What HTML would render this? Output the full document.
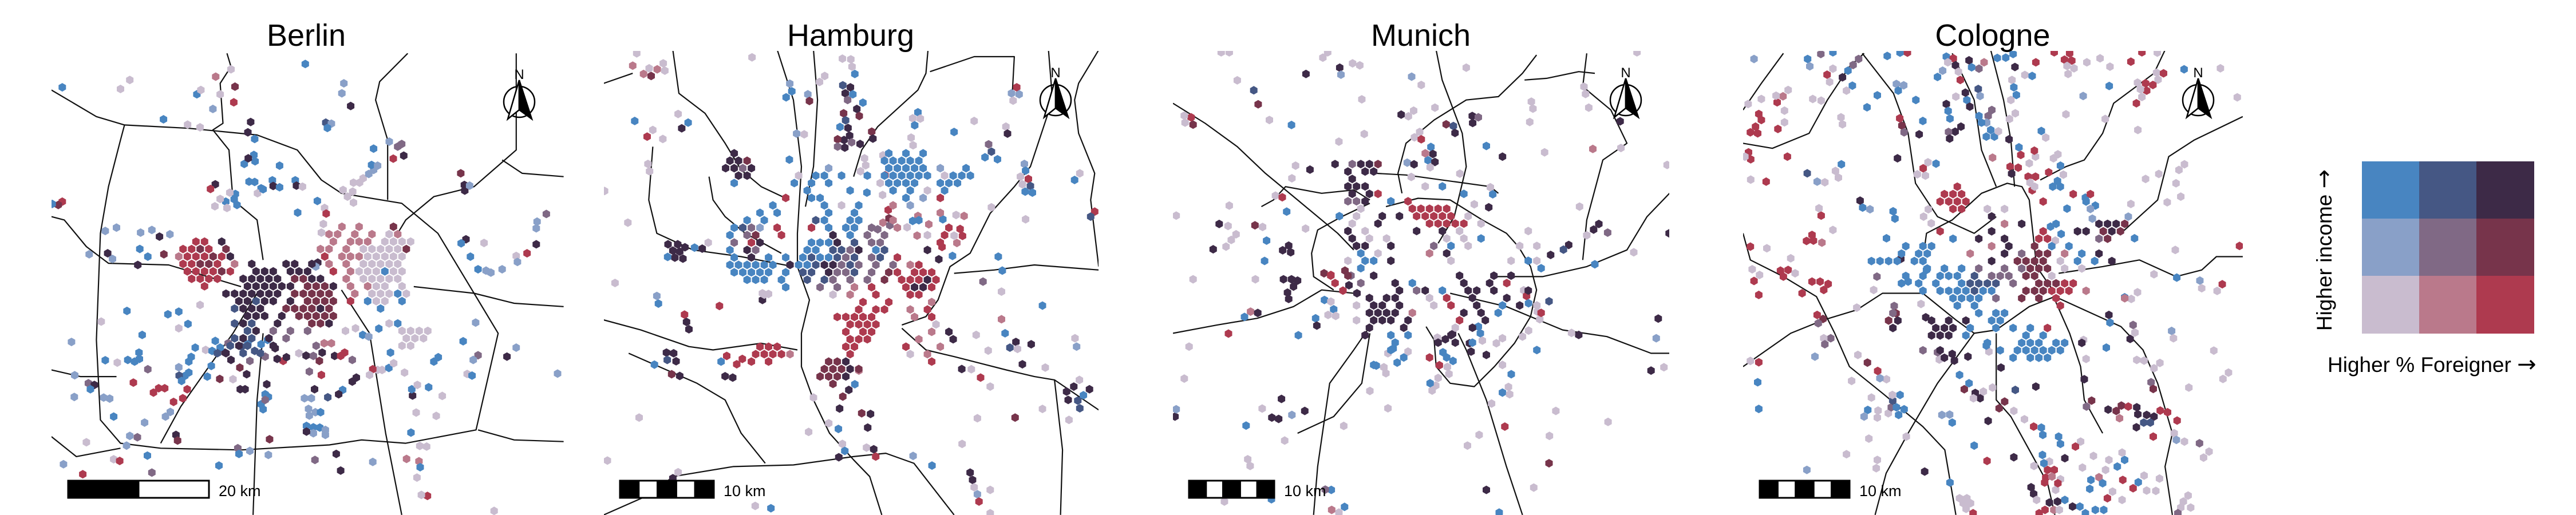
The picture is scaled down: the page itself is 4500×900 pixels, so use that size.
<!DOCTYPE html>
<html><head><meta charset="utf-8"><title>Bivariate maps</title>
<style>
html,body{margin:0;padding:0;background:#fff;}
svg{display:block;font-family:"Liberation Sans",Arial,sans-serif;}
.arr{font-family:"DejaVu Sans",sans-serif;}
</style></head>
<body>
<svg id="fig" width="4500" height="900" viewBox="0 0 4500 900" xmlns="http://www.w3.org/2000/svg">
<defs>
<clipPath id="clip0"><rect x="90" y="93" width="895" height="807"/></clipPath>
<clipPath id="clip1"><rect x="1055" y="89" width="864" height="811"/></clipPath>
<clipPath id="clip2"><rect x="2049" y="89" width="867" height="811"/></clipPath>
<clipPath id="clip3"><rect x="3045" y="89" width="873" height="811"/></clipPath>
</defs>
<text x="535" y="80" font-size="54" text-anchor="middle">Berlin</text>
<text x="1486" y="80" font-size="54" text-anchor="middle">Hamburg</text>
<text x="2482" y="80" font-size="54" text-anchor="middle">Munich</text>
<text x="3481" y="80" font-size="54" text-anchor="middle">Cologne</text>
<g id="panels"></g>
<g id="legend">
<rect x="4126" y="282" width="101" height="101" fill="#4885c1"/>
<rect x="4226" y="282" width="101" height="101" fill="#455784"/>
<rect x="4326" y="282" width="101" height="101" fill="#3d2a47"/>
<rect x="4126" y="382" width="101" height="101" fill="#89a0c8"/>
<rect x="4226" y="382" width="101" height="101" fill="#806985"/>
<rect x="4326" y="382" width="101" height="101" fill="#77344b"/>
<rect x="4126" y="482" width="101" height="101" fill="#c9bccf"/>
<rect x="4226" y="482" width="101" height="101" fill="#ba798b"/>
<rect x="4326" y="482" width="101" height="101" fill="#ae3a4f"/>
<text transform="translate(4073,437) rotate(-90)" font-size="37" text-anchor="middle">Higher income <tspan class="arr" font-size="40">→</tspan></text>
<text x="4066" y="650" font-size="37">Higher % Foreigner <tspan class="arr" font-size="40">→</tspan></text>
</g>
</svg>
<script>
const PAL = ['#c9bccf','#ba798b','#ae3a4f','#89a0c8','#806985','#77344b','#4885c1','#455784','#3d2a47'];
const cityNames = ['berlin','hamburg','munich','cologne'];
const scaleLabels = ['20 km','10 km','10 km','10 km'];

const berlinGrid = [
"................................",
"....................1.1...5.....",
"...................11.1.1.01....",
"...22.8............1.111.0000...",
"..2252.5..........11.1.000005...",
".1222528..........2.11100000....",
"..22552.1.8...88.8.1.1.00000....",
"..222252..888.888..2.1000600....",
"...2222..88888.5588..1.00000....",
"....2....888888.5558.1.100.0....",
".......8888888.55555..1.00060...",
"........88788.8.5555.2.600.6....",
"........7888..555585.....6......",
".........888.8.55555............",
"........787..8...558......06....",
".........78.4.4.4..........0000.",
"........787.8.4.............000.",
".......787..8....4.........00...",
"......78.7.7...................."];
const hamburgGrid = [
"..8.................6.6.6.....",
".885...............66666......",
".8848........3......66666.3..6",
"..88.....0.66.6..6.666666.0666",
"..6......6.6.6.....06666..666.",
"..........6....6....6.6.0.6...",
"........2..66.........6.3.2...",
"......6.....6.0.6...1.3.......",
".....6.6.....6..6.........1...",
"...6.6.....76..66...1..6......",
"..6743.2...2.6.66.4..1.....2..",
".6.45..2.....8.6.4.4....0.2...",
"..4.28.....6668.7.44......2...",
".6.84.....66.7748.67....8.....",
"..6.8.6.6.6766747.47.2........",
".666666.866788474.4.4.12......",
"..66666.6.77.8447.4.52.222....",
"...666.6..7.74.4.4.5.22282....",
"........6...4.4.1.2...2882....",
".....0.......0.1..2...22......",
".................2..2....1....",
"................2.22..1.2.....",
"..............22222....1.2....",
"...............2222......0....",
"...............2.22......1.8..",
"...............222.....1...8..",
".....222.......22.....2...1...",
"....22221......2......0.1.....",
"....2.2......558.........2....",
"............55585...........8.",
"............5558..............",
".............5................"];
const munichGrid = [
"......................8.....",
"..8.4885....................",
"....8.88....................",
"....8.......................",
"....888......0.6............",
"....8.82.........6..........",
"....448..6.2................",
".....0.....22222............",
"...6.0..8.8.22222.0.........",
"....0..8.....22222.0........",
"....8.0.....8..8.0.......0..",
"....8.0.0......0.0.6........",
".....88..8....4.6.0.....0.0.",
".....6.0.....1.8............",
"....0.66.8......0......0.60.",
".....6....................6.",
"..2.5..8.........8...8.8....",
"..2..4...8.6.....8..8.2.....",
"..........8.48.6..88.8...8..",
"......8.88...0.2..8...8.....",
".....0.88.8...0.2..8..6.8.0.",
"......8888.1.....8.8.6....2.",
".....0.888.8.....2..8.......",
"......8...8.....0.8.........",
"......8..6.6....8...........",
".........6....8.8.6.........",
".........6................6.",
"..........6..2.6............",
".......6...................."];
const cologneGrid = [
"..........2........0..6.......",
"........222............2.2....",
"........2222........2....6....",
".........22..0.0.........3....",
"..............8...............",
"...............1.8...6....8885",
"........2.....8.....2...88.585",
".........6..8..8...22.....45..",
"....6.66......1.8..5.6.6......",
"...6.66....1...8.4.55.1.6.8...",
"6666.66.......8..5555.0.6.6.8.",
"......6.6.6.4..4.4555.0.0.....",
"....6.6.666.7.444.55.0........",
"...6.6.6..67777.4..55522......",
"......6.6666766...555222.1....",
".........6666.4..5.5.2.......1",
"..........6.6.........2.......",
"..4.........6.66..............",
"..5....8.8.8..66..............",
"..8....888.6..6.6.6.2.........",
".......888.6......6.6.........",
".............6...666.66.8.....",
"......4.8......6.666666.......",
"........8.......6.666........."];
const gridOrigins = [[413,658],[360,460],[420,470],[420,560]];

const berlinPoints = [[155,262,6],[323,240,0],[300,267,0],[490,283,6],[500,270,0],[575,208,0],[537,230,1],[548,283,0],[585,260,5],[582,307,2],[530,327,3],[407,358,6],[467,374,0],[498,382,0],[760,192,6],[856,250,3],[851,280,3],[873,318,8],[811,368,7],[825,371,3],[815,384,6],[624,366,8],[617,397,8],[634,417,6],[969,425,3],[990,440,4],[1000,432,4],[1005,467,8],[979,476,2],[930,446,6],[1147,520,5],[1156,555,8],[1157,572,8],[1169,557,3],[1360,642,4],[1337,665,3],[1335,685,3],[1312,760,2],[1335,733,8],[1160,718,8],[1148,730,6],[1205,729,0],[1171,770,6],[1190,808,6],[1210,812,3],[1222,818,3],[1250,808,3],[1285,768,0],[1288,786,3],[155,605,2],[145,615,5],[130,612,6],[262,693,3],[290,683,3],[222,763,3],[268,760,8],[280,777,3],[343,795,8],[368,770,6],[378,690,3],[397,710,8],[423,703,3],[350,698,3],[348,747,6],[408,763,5],[316,933,6],[252,965,0],[178,1026,3],[262,1081,6],[292,1088,0],[318,1080,6],[335,1085,6],[347,1077,6],[346,1058,6],[354,1005,6],[418,943,6],[445,935,6],[468,972,6],[498,915,0],[445,985,0],[186,1126,3],[220,1150,4],[235,1155,8],[225,1168,6],[185,1191,3],[258,1193,3],[273,1196,3],[332,1148,2],[368,1108,4],[395,1165,2],[410,1165,2],[382,1178,2],[432,1206,2],[455,1195,2],[466,1168,2],[412,1250,3],[424,1236,3],[283,1250,6],[360,1268,3],[323,1308,3],[342,1312,4],[315,1337,3],[215,1327,0],[158,1393,3],[206,1423,2],[283,1378,0],[298,1383,2],[378,1418,4],[367,1367,6],[438,1305,8],[442,1322,5],[545,1397,6],[592,1345,4],[622,1353,3],[595,1362,6],[668,1365,3],[671,1318,5],[837,1362,8],[848,1412,8],[784,1380,4],[928,1386,3],[1012,1377,1],[1043,1384,1],[1046,1402,6],[1038,1433,0],[1064,1488,2],[1049,1485,0],[1230,1533,0],[1023,1298,6],[1045,1338,0],[1062,1340,0],[1036,1238,0],[1086,1248,0],[1101,1188,0],[1027,1187,8],[1025,1168,6],[1039,1155,0],[1067,1162,6],[1163,1122,0],[1175,1127,6],[1190,1066,4],[1178,1080,3],[1262,1070,8],[1285,1043,3],[1184,968,3],[1153,1024,6],[1388,1121,3],[1080,1085,6],[1091,1072,6],[660,1183,6],[668,1191,6],[650,1213,6],[655,1228,6],[660,1200,4],[758,1195,3],[775,1195,3],[768,1227,3],[785,1237,3],[770,1247,3],[798,1237,6],[780,1282,6],[763,1278,6],[796,1283,6],[810,1290,3],[780,1300,3],[763,1295,8],[810,1305,3],[853,1170,6],[843,1183,8],[816,1192,7],[887,1133,8],[877,1145,8],[783,1168,8],[800,1125,2],[770,1115,4],[598,1168,8],[610,1168,8],[614,1123,8],[664,1153,8],[547,1137,5],[580,1138,0],[597,1103,5],[705,1083,2],[690,1077,8],[660,1070,4],[622,1083,4],[575,1080,8],[560,1058,8],[512,1050,0],[528,1053,6],[548,1043,6],[526,1098,6],[516,1130,6],[460,1128,6],[446,1127,7],[452,1143,6],[445,1102,3],[470,1118,6],[470,1085,6],[476,1071,6],[486,1043,6],[536,1023,6],[568,1030,4],[601,1040,7],[617,1033,6],[634,1053,7],[650,1033,6],[666,1020,6],[685,1045,8],[713,1072,8],[744,1060,0],[762,1067,8],[780,1068,4],[795,1083,5],[802,1058,8],[833,1068,8],[848,1068,2],[858,1058,2],[877,1080,4],[807,1030,1],[825,1030,1],[860,993,0],[885,985,0],[903,1005,6],[943,986,6],[918,1010,3],[940,1110,0],[928,1108,2],[951,1110,0],[968,1104,6],[920,1125,0],[972,1058,6],[980,1090,0],[1007,1118,0],[650,565,6],[608,492,6],[635,484,6],[632,465,6],[618,475,8],[696,497,6],[678,541,6],[680,558,8],[696,562,6],[735,541,6],[738,557,8],[753,560,0],[620,545,6],[634,546,6],[586,582,6],[562,605,6],[548,597,0],[535,619,0],[565,624,0],[583,598,6],[590,615,6],[536,553,8],[524,567,2],[572,578,0],[641,580,0],[655,568,6],[790,603,6],[741,638,6],[808,624,0],[812,641,2],[805,672,0],[880,608,0],[865,590,0],[878,575,0],[854,570,0],[895,548,0],[880,548,0],[904,535,0],[918,522,3],[930,510,3],[925,495,6],[940,497,3],[800,698,0],[791,788,8],[786,800,3]];

const hamburgPoints = [[160,160,0],[150,197,1],[177,222,1],[196,228,5],[211,208,1],[230,212,0],[191,205,0],[226,190,0],[447,172,0],[672,176,0],[693,178,0],[696,200,0],[703,222,6],[628,228,0],[615,246,0],[541,251,3],[546,274,6],[532,292,6],[586,283,3],[590,303,5],[673,256,7],[692,262,8],[679,280,8],[698,283,6],[685,300,4],[723,308,6],[708,327,8],[714,348,5],[675,340,5],[680,361,7],[666,381,6],[686,384,8],[690,407,8],[676,420,8],[660,418,5],[695,427,4],[678,443,8],[660,440,4],[716,432,8],[745,395,5],[748,416,8],[558,401,3],[577,403,0],[540,479,6],[263,342,0],[155,363,6],[288,368,6],[272,385,8],[186,410,2],[200,390,0],[225,417,0],[188,492,0],[192,514,0],[138,668,0],[80,573,0],[106,849,0],[210,888,3],[214,911,6],[238,733,8],[262,733,8],[280,742,8],[250,752,8],[267,755,8],[255,773,8],[275,776,8],[237,771,6],[304,743,6],[323,746,8],[338,728,0],[279,944,2],[284,966,8],[290,988,8],[366,918,2],[473,880,0],[488,882,0],[473,900,8],[234,1058,8],[252,1060,8],[236,1080,7],[258,1084,8],[204,1094,6],[247,1123,5],[267,1128,8],[380,1129,8],[399,1133,8],[384,1068,2],[370,1085,6],[409,1093,2],[423,1077,2],[166,1253,0],[87,1382,0],[263,1417,0],[250,1435,8],[455,1518,0],[494,1525,6],[600,1193,0],[588,1296,0],[662,1287,6],[672,1332,0],[678,1353,6],[663,1372,8],[732,1343,0],[750,1348,8],[755,1370,2],[720,1240,5],[742,1242,8],[735,1283,8],[665,1226,8],[673,1190,5],[688,1170,8],[703,1153,6],[713,1112,1],[638,1270,0],[848,1368,3],[895,1397,6],[990,1418,8],[996,1440,8],[1000,1462,0],[1008,1483,3],[1012,1505,2],[1040,1470,0],[970,1332,0],[1008,1255,0],[1102,1253,5],[1170,1227,0],[1236,1260,0],[1230,1175,8],[1248,1160,8],[1234,1200,8],[1258,1202,7],[1263,1225,7],[1272,1186,6],[1287,1168,8],[1262,1140,0],[1255,1040,3],[1251,1015,0],[1142,1033,8],[1104,1026,8],[1108,1047,0],[1089,1043,7],[1120,1093,8],[1177,1103,0],[1040,1160,0],[1016,1133,2],[993,1108,0],[1077,1000,6],[1035,1052,0],[1068,958,1],[1170,917,6],[1068,875,0],[1022,845,4],[1070,812,6],[1060,770,6],[1005,1005,0],[1250,540,6],[1263,520,0],[1300,635,2],[1290,650,7],[1128,658,0],[1043,622,0],[1058,478,6],[1079,380,0],[1083,401,8],[1036,433,4],[1043,455,7],[1027,472,6],[1106,262,2],[1093,280,3],[1112,283,3],[1097,302,0],[1000,363,0],[1125,492,3],[1128,512,6],[1115,530,0],[1135,537,2],[1120,553,0],[1140,558,7],[1127,575,6],[1145,578,6],[950,396,6],[860,337,6],[847,355,0],[866,356,0],[852,376,6],[843,413,0],[848,436,0],[773,466,0],[727,475,0],[730,496,0],[717,514,0],[778,526,2],[733,578,6],[772,585,0],[760,688,4],[773,668,1],[788,655,5],[790,676,4],[786,630,2],[860,648,1],[887,673,1],[858,707,1],[847,663,6],[833,682,0],[922,658,6],[955,645,0],[975,648,1],[965,687,2],[971,708,2],[950,707,0],[957,729,1],[920,741,2],[946,768,6],[912,778,8],[1040,1540,0]];

const munichPoints = [[190,157,0],[210,157,0],[443,173,0],[455,157,0],[401,222,8],[485,203,8],[488,224,3],[517,190,0],[535,196,0],[664,230,3],[688,255,0],[800,203,0],[230,241,0],[271,271,7],[282,313,5],[115,352,2],[120,374,5],[98,347,0],[100,368,0],[310,360,0],[365,375,6],[540,298,0],[546,402,0],[483,425,0],[638,344,8],[656,349,0],[669,332,0],[722,323,0],[815,348,8],[830,352,4],[816,369,8],[750,373,5],[768,378,7],[772,399,8],[684,396,0],[671,412,0],[688,418,2],[712,441,6],[698,460,1],[717,462,8],[705,481,6],[722,486,8],[653,488,3],[670,493,8],[710,502,0],[663,531,0],[784,521,0],[850,438,6],[962,305,0],[966,326,0],[958,366,0],[1093,260,0],[1097,282,0],[1105,323,0],[1183,364,8],[1185,444,0],[1115,447,1],[995,457,0],[1300,495,0],[860,562,0],[866,583,6],[856,622,8],[820,613,0],[1082,620,0],[1130,672,8],[1117,689,8],[1152,698,4],[1100,706,0],[1055,735,8],[1042,749,7],[1010,765,8],[1120,793,6],[1217,757,0],[1305,700,8],[1278,956,8],[1273,1015,3],[1260,1112,8],[1292,1102,0],[1080,1005,8],[1062,999,0],[1006,904,7],[943,871,0],[950,888,2],[955,910,6],[977,935,0],[983,958,0],[955,992,0],[940,1010,0],[890,1015,0],[875,1030,0],[850,1065,8],[890,1095,0],[912,1123,6],[905,1161,0],[890,1178,6],[908,1183,0],[863,1211,0],[896,1280,2],[1023,1233,0],[1007,1308,0],[1153,1266,0],[1006,1390,5],[968,1463,0],[850,1470,8],[882,1538,6],[832,1305,0],[803,1337,0],[730,1134,0],[724,1157,0],[715,1172,0],[710,1150,6],[757,1122,0],[733,1096,2],[767,1083,6],[753,1101,0],[742,1057,6],[748,1018,8],[766,1002,8],[728,1013,0],[808,1030,8],[812,1055,8],[835,1000,6],[830,980,6],[840,1022,0],[605,1225,0],[495,1278,0],[560,1173,0],[600,1120,0],[628,1088,6],[605,1060,0],[576,1097,6],[595,1102,0],[618,1046,6],[655,1055,0],[340,1197,8],[316,1253,8],[333,1257,8],[366,1245,3],[398,1233,8],[292,1226,0],[252,1277,6],[348,1322,0],[256,1378,0],[262,1398,0],[98,1136,0],[110,1040,0],[208,1001,2],[248,951,6],[263,935,1],[281,939,8],[75,1250,8],[78,1228,3],[382,1006,6],[298,783,6],[275,838,0],[120,838,0],[170,748,8],[202,740,0],[215,720,0],[227,703,0],[185,672,8],[207,678,0],[274,676,5],[293,681,0],[303,722,6],[210,617,0],[78,647,0],[325,587,0],[342,592,2],[353,635,6],[400,686,0],[375,497,0],[411,509,8],[366,535,0],[345,838,8],[365,838,8],[380,842,8],[370,860,8],[355,878,8],[358,897,8],[343,751,8],[358,737,8],[363,757,8],[425,955,6],[428,977,8],[447,900,6],[463,905,0],[470,928,6],[456,945,0],[475,948,0],[446,820,5],[463,825,2],[498,812,5],[493,872,2],[508,856,8],[513,827,4],[528,880,8],[464,1470,6],[449,1469,4],[465,1530,1],[483,1538,0],[497,1521,6],[315,1498,6],[198,1505,0],[1225,157,0]];

const colognePoints = [[100,177,3],[282,162,4],[315,157,6],[246,177,6],[252,199,3],[299,224,2],[315,206,0],[341,232,8],[356,212,6],[370,195,4],[385,177,4],[368,257,6],[352,272,0],[306,246,0],[193,270,0],[179,289,1],[163,307,2],[160,287,0],[120,297,0],[84,312,0],[113,342,2],[120,360,2],[104,380,2],[110,400,2],[90,397,2],[183,332,0],[183,367,0],[165,387,2],[85,457,2],[91,478,2],[75,470,0],[191,470,2],[133,545,2],[91,539,0],[245,520,7],[272,545,3],[293,547,0],[260,297,0],[283,302,0],[337,352,0],[341,373,0],[338,493,6],[322,513,0],[330,533,0],[436,286,6],[408,322,6],[463,168,6],[498,158,6],[518,158,2],[488,252,3],[508,256,3],[493,272,6],[541,300,6],[497,355,2],[503,377,5],[509,397,4],[550,403,8],[560,363,6],[491,475,8],[574,487,0],[596,491,6],[561,505,2],[567,527,0],[545,523,0],[389,602,8],[396,623,6],[416,628,3],[479,634,6],[484,656,6],[575,628,0],[562,650,0],[583,670,0],[461,715,6],[624,170,6],[643,175,2],[649,196,8],[614,212,3],[600,231,6],[628,187,0],[657,215,0],[662,240,2],[686,181,8],[727,187,1],[713,206,4],[693,202,6],[763,174,6],[786,173,6],[806,162,6],[711,267,7],[716,288,3],[680,300,6],[688,320,8],[676,278,8],[650,290,0],[624,312,8],[629,333,6],[634,356,6],[664,380,8],[648,395,8],[630,396,4],[633,416,8],[713,348,6],[738,348,4],[734,368,3],[720,368,6],[748,330,4],[745,390,6],[755,410,6],[733,410,6],[766,394,0],[795,418,8],[811,201,8],[838,225,0],[858,228,6],[803,240,0],[808,262,6],[815,285,6],[800,300,0],[812,340,0],[796,357,0],[822,442,6],[827,465,2],[867,470,0],[850,490,0],[864,452,2],[750,473,1],[798,500,2],[820,503,2],[802,521,8],[847,530,2],[867,530,2],[858,571,2],[852,548,0],[883,393,6],[895,413,0],[903,517,2],[916,475,0],[928,463,0],[935,497,6],[943,524,0],[927,543,6],[914,560,6],[868,187,2],[918,157,2],[946,179,2],[966,182,2],[960,160,2],[953,198,0],[972,205,0],[956,222,0],[1007,187,0],[1043,175,0],[1070,200,0],[1127,185,2],[1157,157,2],[1199,158,0],[1197,218,0],[1216,220,2],[1201,239,0],[1187,255,2],[1167,250,2],[1170,272,2],[1145,248,0],[1153,268,0],[1157,291,0],[1142,310,2],[1272,208,6],[1068,258,6],[997,288,3],[950,343,0],[1057,357,0],[1146,390,0],[1371,205,0],[1417,292,0],[1273,493,0],[1258,510,0],[1250,550,0],[1167,537,0],[1203,522,0],[1263,590,0],[1226,607,0],[1127,612,0],[1120,650,3],[1030,617,6],[1003,593,6],[953,626,6],[1022,656,3],[908,680,6],[937,702,6],[921,722,0],[1137,715,6],[1248,750,0],[1423,738,2],[1190,823,0],[1252,833,6],[1315,842,3],[1320,865,0],[1376,853,2],[1362,873,0],[1110,892,6],[1128,897,0],[1145,877,0],[1067,945,8],[1070,968,6],[1133,975,4],[1138,998,0],[1125,1017,8],[1238,993,3],[1243,1015,0],[1353,1052,0],[1143,1080,0],[1163,1082,0],[1190,1105,0],[1206,1089,0],[1182,1147,4],[1188,1167,5],[1285,1163,0],[1393,1118,0],[1378,1137,0],[1060,1043,6],[998,1020,0],[1005,1077,0],[1000,1138,8],[1006,1220,4],[1020,1202,5],[1065,1229,8],[1087,1233,5],[1101,1217,5],[1120,1220,2],[1143,1222,8],[1146,1243,8],[1170,1245,8],[1190,1250,8],[1162,1268,7],[1180,1268,7],[1142,1282,8],[1096,1255,1],[1207,1232,2],[1227,1237,2],[1253,1262,2],[1188,1310,2],[1245,1300,0],[1251,1320,3],[1273,1325,0],[1314,1330,4],[1340,1355,0],[1325,1373,0],[1283,1487,0],[1270,1505,0],[1263,1523,0],[1290,1523,0],[1255,1540,4],[1133,1465,2],[1147,1447,6],[1163,1427,0],[1170,1472,0],[1195,1473,0],[1205,1436,0],[1103,1358,0],[1110,1380,6],[1090,1400,6],[1067,1380,0],[1058,1410,0],[1040,1432,1],[1050,1450,6],[1077,1475,0],[1063,1495,2],[1105,1440,2],[1103,1500,0],[1030,1530,6],[1053,1530,6],[1018,1440,6],[1015,1467,6],[1025,1368,0],[995,1403,0],[990,1325,0],[976,1340,2],[947,1375,8],[935,1438,0],[922,1470,0],[947,1500,6],[927,1505,8],[905,1508,8],[893,1530,2],[877,1540,2],[917,1530,1],[932,1530,0],[968,1520,8],[988,1520,6],[1003,1540,6],[900,1410,2],[918,1410,2],[895,1433,2],[912,1430,1],[928,1450,2],[892,1448,2],[905,1385,0],[890,1390,6],[886,1365,6],[862,1280,2],[883,1283,6],[887,1305,6],[930,1310,6],[935,1332,6],[863,1398,0],[855,1462,8],[862,1482,8],[870,1500,0],[808,1372,8],[735,1383,2],[700,1337,6],[634,1448,6],[565,1415,8],[660,1495,0],[680,1495,0],[670,1510,0],[690,1510,0],[678,1527,0],[697,1540,2],[837,1258,0],[808,1233,0],[768,1225,5],[783,1205,5],[750,1163,0],[725,1175,0],[703,1179,8],[716,1195,8],[698,1195,0],[673,1168,5],[686,1150,6],[660,1125,6],[738,1263,8],[640,1268,6],[612,1245,3],[633,1244,3],[812,1170,7],[868,1160,8],[773,1103,8],[740,1055,0],[733,1037,6],[683,1070,8],[646,1082,8],[640,1062,8],[605,1079,0],[600,1057,4],[515,1310,0],[433,1405,0],[436,1380,0],[413,1316,0],[420,1193,0],[436,1253,0],[438,1232,0],[400,1250,3],[410,1230,6],[466,1240,0],[474,1222,4],[488,1222,6],[478,1202,7],[498,1185,6],[477,1185,0],[509,1228,6],[494,1245,6],[461,1138,0],[443,1135,3],[437,1113,2],[409,1088,5],[383,1065,0],[366,1143,0],[352,1363,0],[244,1410,3],[113,1227,6],[110,1147,6],[113,1087,2],[90,1083,0],[266,1070,3],[309,1015,4],[290,1015,0],[293,1033,4],[288,957,5],[272,945,2],[275,970,4],[380,923,0],[426,870,0],[435,830,4],[482,918,4],[487,940,5],[492,962,8],[568,952,8],[555,912,0],[100,843,2],[113,885,2],[231,880,2],[258,845,2],[280,845,2],[302,852,2],[290,870,2],[193,810,2],[172,812,2],[180,830,2],[212,820,0],[115,825,0],[95,808,0],[243,723,2],[258,705,2],[262,722,2],[285,728,1],[315,690,0],[283,647,2],[277,625,0],[135,745,0],[90,740,2],[200,775,0],[500,777,8],[520,845,6],[570,810,6]];

const berlinRoads = [
[[310,375],[470,385],[640,405],[740,450],[800,540],[850,580],[1000,610],[1090,700],[1180,880],[1240,1000],[1185,1290],[1010,1330],[900,1320],[820,1335],[600,1350],[400,1345],[300,1330],[250,1260],[240,1020],[250,700],[270,560],[300,420],[310,375]],
[[128,270],[240,350],[310,375]],
[[128,650],[160,660],[215,740],[270,790],[420,795],[600,860]],
[[565,160],[575,200],[548,250],[555,370],[530,390],[570,450],[580,600],[640,660],[655,780]],
[[1015,160],[945,245],[935,300],[965,420],[965,600]],
[[1285,160],[1285,450],[1180,560],[1080,590],[1010,660],[990,700]],
[[630,1545],[640,1200],[655,1000]],
[[1000,1545],[960,1300],[920,1000],[850,870]],
[[400,1330],[450,1220],[520,1100],[580,1000],[640,880]],
[[128,1310],[190,1370],[300,1345]],
[[1190,1290],[1280,1320],[1403,1325]],
[[128,1110],[200,1130],[290,1130]],
[[1403,530],[1300,520],[1250,480]],
[[1030,860],[1180,880],[1280,910],[1403,920]]];
const hamburgRoads = [
[[250,150],[265,280],[330,340],[380,430],[420,510],[470,560],[540,600]],
[[510,150],[550,300],[570,500],[560,700],[560,800],[590,900],[570,1000],[570,1100],[600,1200],[640,1300],[700,1380],[740,1430],[770,1545]],
[[600,150],[610,300],[600,500],[580,620]],
[[885,150],[880,220],[860,270],[760,380],[720,450],[700,530]],
[[890,215],[1000,170],[1100,170],[1095,280]],
[[1185,150],[1195,300],[1140,500],[1100,560],[1040,640],[990,760],[940,800],[910,900],[880,950],[820,975]],
[[1310,150],[1260,250],[1250,300],[1260,400],[1300,520],[1290,600],[1310,800]],
[[950,820],[1050,810],[1150,795],[1310,810]],
[[820,985],[880,1050],[950,1070],[1080,1110],[1150,1130],[1200,1140],[1310,1230]],
[[1200,1140],[1220,1350],[1215,1545]],
[[78,960],[170,990],[290,1040],[350,1050],[470,1030],[560,1050]],
[[140,1060],[310,1150],[380,1200],[420,1300],[480,1390]],
[[250,1430],[400,1400],[550,1395],[700,1370],[780,1360],[850,1390],[950,1545]],
[[78,1545],[200,1480],[250,1430]],
[[200,440],[190,600],[210,700],[300,750],[420,770],[550,800]],
[[340,530],[350,600],[380,650],[430,700],[520,760]],
[[78,250],[150,220]]];
const munichRoads = [
[[70,310],[150,370],[230,440],[300,520],[380,600],[480,700],[520,750]],
[[70,1000],[180,975],[280,955],[370,920],[440,870],[520,880]],
[[725,150],[740,240],[790,400],[800,500],[770,650],[730,730]],
[[975,165],[940,220],[880,290],[800,300],[720,360],[650,430],[630,520],[640,580]],
[[600,620],[680,595],[760,600],[840,660],[900,700],[930,740],[960,800],[975,870],[960,950],[920,1030],[870,1100],[820,1160],[760,1150],[725,1100],[720,1020],[700,980]],
[[560,610],[490,650],[430,690],[415,760],[420,830],[470,870]],
[[560,600],[520,570],[440,580],[350,560],[320,600],[290,620]],
[[870,830],[990,830],[1100,800],[1200,750],[1250,650],[1306,580]],
[[760,880],[900,920],[1040,990],[1150,1010],[1260,1060],[1306,1060]],
[[420,1545],[430,1400],[460,1150],[520,1050],[560,980]],
[[940,1545],[900,1400],[850,1200],[800,1050],[780,1000]],
[[560,1000],[540,1150],[470,1250],[380,1300]],
[[575,520],[650,525],[860,560],[880,580]],
[[1100,160],[1090,260],[1160,330],[1200,430],[1140,480],[1100,660],[1090,780]],
[[945,240],[1000,235],[1080,215],[1120,220]]];
const cologneRoads = [
[[70,430],[150,445],[250,400],[300,300],[360,200],[400,160]],
[[70,700],[90,780],[180,830],[270,890],[320,1000],[360,1100],[450,1180],[560,1280],[620,1350],[650,1545]],
[[180,160],[120,250],[70,330]],
[[395,160],[480,280],[520,400],[540,550],[600,650],[700,700],[760,650]],
[[70,1100],[200,1000],[290,960],[380,930],[450,880],[560,880],[650,960],[700,1000],[760,990],[850,920],[920,890],[1000,930],[1100,980],[1160,1050],[1200,1150],[1240,1300],[1220,1400],[1240,1545]],
[[565,740],[570,700],[640,660],[720,580],[790,550],[830,560],[850,600],[860,700],[870,800],[920,880]],
[[745,150],[780,300],[800,420],[810,560]],
[[1220,150],[1190,220],[1080,310],[1050,400],[1000,480],[950,500],[880,540]],
[[930,820],[1050,800],[1150,780],[1250,830],[1320,810],[1360,770],[1432,770]],
[[920,900],[960,1000],[990,1100],[1000,1200],[1050,1300]],
[[760,1000],[760,1200],[800,1250],[850,1350],[900,1450],[920,1545]],
[[700,1000],[600,1150],[520,1300],[460,1420],[430,1545]],
[[1432,350],[1300,420],[1230,470],[1200,600],[1100,700]],
[[640,160],[700,300],[720,450],[760,560]]];

const grids = [berlinGrid, hamburgGrid, munichGrid, cologneGrid];
const pointSets = [berlinPoints, hamburgPoints, munichPoints, colognePoints];
const roadSets = [berlinRoads, hamburgRoads, munichRoads, cologneRoads];
const projX0 = [0,1000,2000,3000];
const projSX = [1.425,1.425,1.425,1.56];
const projSY = 1.717;
const compassC = [[907,178],[1844,175],[2840,175],[3840,175]];
const scaleBars = [[119,246,2],[1083,164,5],[2077,149,5],[3074,157,5]];

const NS = 'http://www.w3.org/2000/svg';
function mk(tag, attrs, parent){const e=document.createElementNS(NS,tag);for(const k in attrs)e.setAttribute(k,attrs[k]);parent.appendChild(e);return e;}
function xScale(i,zx){return projX0[i]+zx/projSX[i];}
function yScale(zy){return zy/projSY;}
const HEX_DX=15, HEX_DY=13, HEX_R=7.5;
function hexPts(cx,cy){let s='';for(let k=0;k<6;k++){const a=Math.PI/6+k*Math.PI/3;s+=(cx+HEX_R*Math.cos(a)).toFixed(1)+','+(cy+HEX_R*Math.sin(a)).toFixed(1)+' ';}return s;}

const root=document.getElementById('panels');
for(let i=0;i<4;i++){
  const g=mk('g',{},root);
  
  
  const body=mk('g',{'clip-path':'url(#clip'+i+')'},g);
  const rg=mk('g',{},body);
  
  
  roadSets[i].forEach(road=>{
    const d=road.map((p,j)=>(j?'L':'M')+xScale(i,p[0]).toFixed(1)+' '+yScale(p[1]).toFixed(1)).join(' ');
    const pth=mk('path',{d:d,fill:'none',stroke:'#111','stroke-width':'2.2','stroke-linejoin':'round'},rg);
    
    
  });
  const dg=mk('g',{},body);
  
  
  pointSets[i].forEach(p=>{
    const h=mk('polygon',{points:hexPts(xScale(i,p[0]),yScale(p[1])),fill:PAL[p[2]]},dg);
    
    
  });
  const ox=xScale(i,gridOrigins[i][0]), oy=yScale(gridOrigins[i][1]);
  grids[i].forEach((row,r)=>{
    for(let c=0;c<row.length;c++){
      const ch=row[c]; if(ch==='.') continue;
      const cx=ox+c*HEX_DX+(r%2?HEX_DX/2:0), cy=oy+r*HEX_DY;
      const h=mk('polygon',{points:hexPts(cx,cy),fill:PAL[+ch]},dg);
      
      
    }
  });
  const [cx,cy]=compassC[i];
  const cg=mk('g',{},g);
  
  
  mk('circle',{cx:cx,cy:cy,r:27,fill:'none',stroke:'#000','stroke-width':'2.5'},cg);
  mk('polygon',{points:(cx)+','+(cy-38)+' '+(cx-20)+','+(cy+30)+' '+(cx)+','+(cy+14),fill:'#fff',stroke:'#000','stroke-width':'2.5'},cg);
  mk('polygon',{points:(cx)+','+(cy-38)+' '+(cx+22)+','+(cy+30)+' '+(cx)+','+(cy+14),fill:'#000',stroke:'#000','stroke-width':'2.5'},cg);
  const nt=mk('text',{x:cx,y:cy-40,'font-size':'24','text-anchor':'middle'},cg); nt.textContent='N';
  const [sx,sw,nseg]=scaleBars[i];
  const sg=mk('g',{},g);
  
  
  const segw=sw/nseg;
  for(let k=0;k<nseg;k++){
    mk('rect',{x:sx+k*segw,y:840,width:segw,height:30,fill:(k%2?'#fff':'#000'),stroke:'#000','stroke-width':'3'},sg);
  }
  const st=mk('text',{x:sx+sw+17,y:867,'font-size':'27'},sg); st.textContent=scaleLabels[i];
}
</script>
</body></html>
